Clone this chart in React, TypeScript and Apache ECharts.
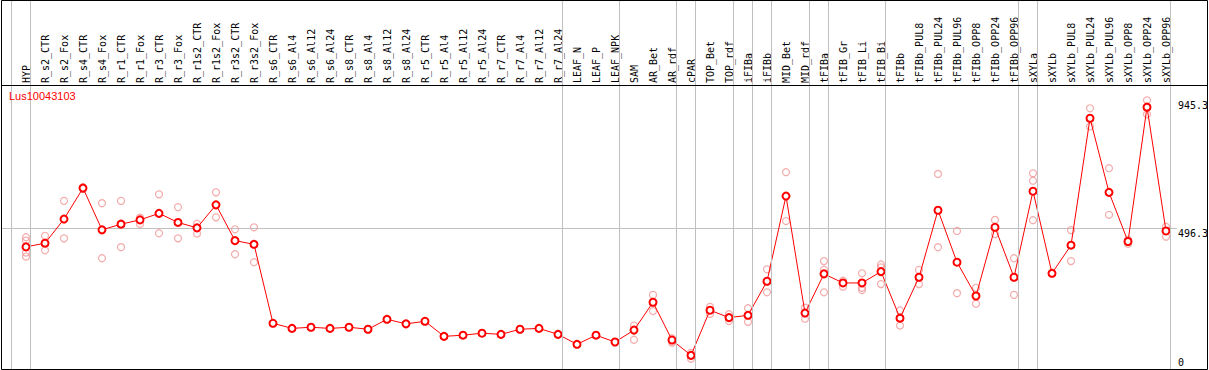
import React, { useEffect, useRef } from "react";
import * as echarts from "echarts";

const categories = [
  "HYP", "R_s2_CTR", "R_s2_Fox", "R_s4_CTR", "R_s4_Fox", "R_r1_CTR", "R_r1_Fox", "R_r3_CTR", "R_r3_Fox",
  "R_r1s2_CTR", "R_r1s2_Fox", "R_r3s2_CTR", "R_r3s2_Fox", "R_s6_CTR", "R_s6_Al4", "R_s6_Al12", "R_s6_Al24",
  "R_s8_CTR", "R_s8_Al4", "R_s8_Al12", "R_s8_Al24", "R_r5_CTR", "R_r5_Al4", "R_r5_Al12", "R_r5_Al24",
  "R_r7_CTR", "R_r7_Al4", "R_r7_Al12", "R_r7_Al24", "LEAF_N", "LEAF_P", "LEAF_NPK", "SAM", "AR_Bet", "AR_rdf",
  "cPAR", "TOP_Bet", "TOP_rdf", "iFIBa", "iFIBb", "MID_Bet", "MID_rdf", "tFIBa", "tFIB_Gr", "tFIB_Li", "tFIB_Bi",
  "tFIBb", "tFIBb_PUL8", "tFIBb_PUL24", "tFIBb_PUL96", "tFIBb_OPP8", "tFIBb_OPP24", "tFIBb_OPP96", "sXYLa",
  "sXYLb", "sXYLb_PUL8", "sXYLb_PUL24", "sXYLb_PUL96", "sXYLb_OPP8", "sXYLb_OPP24", "sXYLb_OPP96",
];

const means = [
  430, 443, 528, 637, 490, 510, 525, 548, 516, 497, 578, 452, 439,
  161, 143, 147, 143, 147, 140, 175, 159, 168, 115, 119, 126, 122, 140, 143, 122, 87, 119,
  95, 137, 235, 102, 48, 207, 181, 189, 309, 609, 197, 335, 303, 303, 343, 179,
  323, 559, 376, 257, 499, 323, 626, 337, 436, 883, 622, 449, 922, 486,
];

const replicates: number[][] = [
  [464, 452, 410, 396], [469, 418], [592, 460], [640, 634], [584, 390], [592, 429], [533, 511],
  [615, 478], [570, 460], [511, 477], [622, 534], [492, 404], [499, 376],
  [], [], [], [], [], [], [], [], [], [], [], [], [], [], [], [], [], [], [],
  [153, 103], [261, 204], [93, 108], [36, 57], [219, 194], [193, 169], [214, 166], [351, 270],
  [693, 521], [216, 177], [380, 349, 270], [311, 290], [337, 286, 278], [368, 358, 299], [206, 153],
  [349, 299], [687, 429], [486, 267], [286, 230], [525, 475], [390, 261], [689, 663, 524], [],
  [489, 380], [918, 854], [707, 543], [441, 455], [946, 897], [501, 466],
];

// group boundaries: separator drawn just after these category indices
const groupEnds = [-1, 0, 28, 31, 34, 35, 37, 38, 39, 41, 42, 45, 52, 53, 60];

const yTicks = [0, 496.3, 945.3];
const gridLineValue = 496.3;
const title = "Lus10043103";

export default function App() {
  const ref = useRef<HTMLDivElement>(null);
  useEffect(() => {
    const chart = echarts.init(ref.current as HTMLDivElement, null, { renderer: "svg" });
    const repData: number[][] = [];
    replicates.forEach((arr, i) => arr.forEach((v) => repData.push([i, v])));
    const option: any = {
      animation: false,
      backgroundColor: "#fff",
      title: {
        text: title,
        left: 9,
        top: 90,
        padding: 0,
        textStyle: { fontSize: 11, color: "#ff0000", fontFamily: "Liberation Sans", fontWeight: "normal" },
      },
      grid: { left: 1, top: 0, right: 32, bottom: 1, containLabel: false },
      xAxis: {
        type: "value",
        min: -25 / 19,
        max: (1177 - 26) / 19,
        position: "top",
        offset: -85,
        axisLine: { show: false },
        axisTick: { show: false },
        splitLine: { show: false },
        axisLabel: {
          customValues: categories.map((_, i) => i),
          formatter: (v: number) => categories[Math.round(v)] ?? "",
          rotate: 90,
          margin: 2,
          fontFamily: "DejaVu Sans Mono",
          fontSize: 10,
          color: "#000",
        },
      },
      yAxis: { type: "value", min: 0, max: 1299.3, show: false },
      series: [
        {
          type: "scatter",
          data: repData,
          symbol: "circle",
          symbolSize: 7,
          itemStyle: { color: "rgba(0,0,0,0)", borderColor: "#f09696", borderWidth: 1.2 },
          silent: true,
          markLine: {
            silent: true,
            symbol: ["none", "none"],
            label: { show: false },
            lineStyle: { color: "#c0c0c0", width: 1, type: "solid" },
            data: groupEnds.map((g) => ({ xAxis: g + 0.23 })),
          },
        },
        {
          type: "line",
          data: means.map((v, i) => [i, v]),
          symbol: "emptyCircle",
          symbolSize: 7,
          lineStyle: { color: "#ff0000", width: 1 },
          itemStyle: { color: "#ff0000", borderColor: "#ff0000", borderWidth: 1.3 },
          z: 3,
          silent: true,
          markLine: {
            silent: true,
            symbol: ["none", "none"],
            z: 1,
            data: yTicks.map((v) => ({
              yAxis: v,
              lineStyle:
                v === gridLineValue
                  ? { color: "#c0c0c0", width: 1, type: "solid" }
                  : { color: "rgba(0,0,0,0)", width: 1, type: "solid" },
              label: {
                show: true,
                position: "end",
                distance: 1,
                formatter: String(v),
                offset: [0, v === 0 ? -7 : 5],
                fontFamily: "DejaVu Sans Mono",
                fontSize: 10,
                color: "#000",
              },
            })),
          },
        },
      ],
      graphic: [
        {
          type: "rect",
          silent: true,
          z: 100,
          shape: { x: 1.5, y: 0.5, width: 1206, height: 369 },
          style: { fill: "none", stroke: "#000", lineWidth: 1 },
        },
        {
          type: "line",
          silent: true,
          z: 100,
          shape: { x1: 1, y1: 85.5, x2: 1208, y2: 85.5 },
          style: { stroke: "#000", lineWidth: 1 },
        },
      ],
    };
    chart.setOption(option);
    return () => chart.dispose();
  }, []);
  return (
    <div
      ref={ref}
      style={{ position: "fixed", left: 0, top: 0, width: 1209, height: 370, background: "#fff" }}
    />
  );
}
